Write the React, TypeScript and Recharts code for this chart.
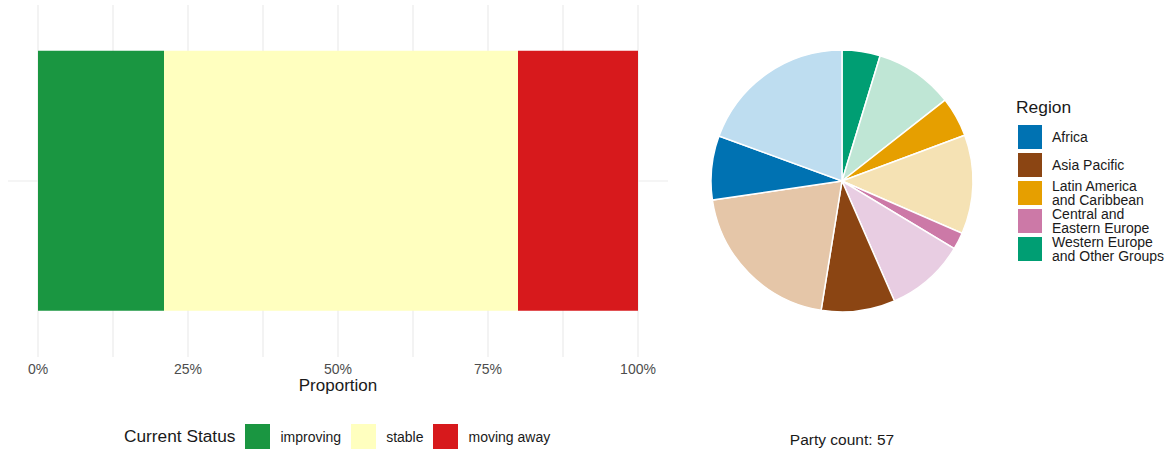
import { Bar, BarChart, CartesianGrid, Cell, Pie, PieChart, XAxis, YAxis } from 'recharts';

// Left: stacked 100% bar of current status. Right: pie of parties by region
// (dark = region colour, light = paler companion slice).

const STATUS_KEYS = ['improving', 'stable', 'movingAway'];
const STATUS_LABELS = ['improving', 'stable', 'moving away'];
const STATUS_COLORS = ['#1A9641', '#FFFFBF', '#D7191C'];
const STATUS_VALUES = [0.21, 0.59, 0.2];

const X_TICKS = [0, 0.125, 0.25, 0.375, 0.5, 0.625, 0.75, 0.875, 1];

const SLICE_NAMES = [
  'Western Europe and Other Groups',
  'Western Europe and Other Groups (other)',
  'Latin America and Caribbean',
  'Latin America and Caribbean (other)',
  'Central and Eastern Europe',
  'Central and Eastern Europe (other)',
  'Asia Pacific',
  'Asia Pacific (other)',
  'Africa',
  'Africa (other)',
];
const SLICE_VALUES = [4.7, 9.7, 4.9, 12.2, 2.1, 9.8, 9.1, 20.1, 7.9, 19.4];
const SLICE_COLORS = [
  '#009E73', '#BFE6D5', '#E69F00', '#F5E2B4', '#CC79A7',
  '#E8CDE2', '#8B4513', '#E5C6A8', '#0072B2', '#BEDDF0',
];

const REGION_LABELS = [
  ['Africa'],
  ['Asia Pacific'],
  ['Latin America', 'and Caribbean'],
  ['Central and', 'Eastern Europe'],
  ['Western Europe', 'and Other Groups'],
];
const REGION_COLORS = ['#0072B2', '#8B4513', '#E69F00', '#CC79A7', '#009E73'];

const PARTY_COUNT = 57;

const FONT = '"Liberation Sans", Arial, sans-serif';
const TEXT = '#1a1a1a';

export default function App() {
  const row: Record<string, string | number> = { name: 'all' };
  STATUS_KEYS.forEach((k, i) => (row[k] = STATUS_VALUES[i]));
  const pieData = SLICE_NAMES.map((name, i) => ({ name, value: SLICE_VALUES[i] }));

  return (
    <div style={{ position: 'absolute', left: 0, top: 0, width: 1169, height: 453, background: '#fff', fontFamily: FONT }}>
      <div style={{ position: 'absolute', left: 0, top: 0 }}>
        <BarChart
          width={680}
          height={420}
          data={[row]}
          layout="vertical"
          barCategoryGap="13%"
          margin={{ top: 5, right: 12, bottom: 0, left: 8 }}
        >
          <CartesianGrid
            stroke="#EBEBEB"
            strokeWidth={1.2}
            syncWithTicks
            horizontalCoordinatesGenerator={({ offset }: any) => [offset.top + offset.height / 2]}
          />
          <XAxis
            type="number"
            domain={[-0.05, 1.05]}
            ticks={X_TICKS}
            allowDataOverflow
            tickFormatter={(v: number) => (Math.round(v * 1000) % 250 === 0 ? `${Math.round(v * 100)}%` : '')}
            tick={{ fill: '#4D4D4D', fontSize: 14, fontFamily: FONT }}
            tickLine={false}
            axisLine={false}
            tickMargin={1}
            height={63}
            label={{ value: 'Proportion', position: 'insideTop', offset: 22, fill: TEXT, fontSize: 17, fontFamily: FONT }}
          />
          <YAxis type="category" dataKey="name" width={0} tick={false} tickLine={false} axisLine={false} />
          {STATUS_KEYS.map((k, i) => (
            <Bar key={k} dataKey={k} stackId="s" fill={STATUS_COLORS[i]} isAnimationActive={false} />
          ))}
        </BarChart>
      </div>

      {/* status legend */}
      <div style={{ position: 'absolute', left: 124, top: 424, height: 25, display: 'flex', alignItems: 'center', fontSize: 17.3, color: TEXT }}>
        <span style={{ marginRight: 10 }}>Current Status</span>
        {STATUS_LABELS.map((label, i) => (
          <span key={label} style={{ display: 'flex', alignItems: 'center', marginRight: 10 }}>
            <span style={{ width: 25, height: 25, background: STATUS_COLORS[i], display: 'inline-block' }} />
            <span style={{ marginLeft: 10, fontSize: 14 }}>{label}</span>
          </span>
        ))}
      </div>

      <div style={{ position: 'absolute', left: 692, top: 31 }}>
        <PieChart width={300} height={300} margin={{ top: 0, right: 0, bottom: 0, left: 0 }}>
          <Pie
            data={pieData}
            dataKey="value"
            cx="50%"
            cy="50%"
            outerRadius={131}
            startAngle={90}
            endAngle={-270}
            stroke="#fff"
            strokeWidth={1.5}
            isAnimationActive={false}
          >
            {pieData.map((d, i) => (
              <Cell key={d.name} fill={SLICE_COLORS[i]} />
            ))}
          </Pie>
        </PieChart>
      </div>

      {/* region legend */}
      <div style={{ position: 'absolute', left: 1016, top: 97, color: TEXT }}>
        <div style={{ fontSize: 17.4, marginBottom: 5 }}>Region</div>
        {REGION_LABELS.map((lines, i) => (
          <div key={lines[0]} style={{ display: 'flex', alignItems: 'center', height: 28 }}>
            <span style={{ width: 24, height: 24, marginLeft: 2, background: REGION_COLORS[i], display: 'inline-block' }} />
            <span style={{ marginLeft: 10, fontSize: 14, lineHeight: '14px' }}>
              {lines.map((l) => (
                <div key={l}>{l}</div>
              ))}
            </span>
          </div>
        ))}
      </div>

      <div style={{ position: 'absolute', left: 742, width: 200, top: 431, textAlign: 'center', fontSize: 15.5, color: TEXT }}>
        Party count: {PARTY_COUNT}
      </div>
    </div>
  );
}
